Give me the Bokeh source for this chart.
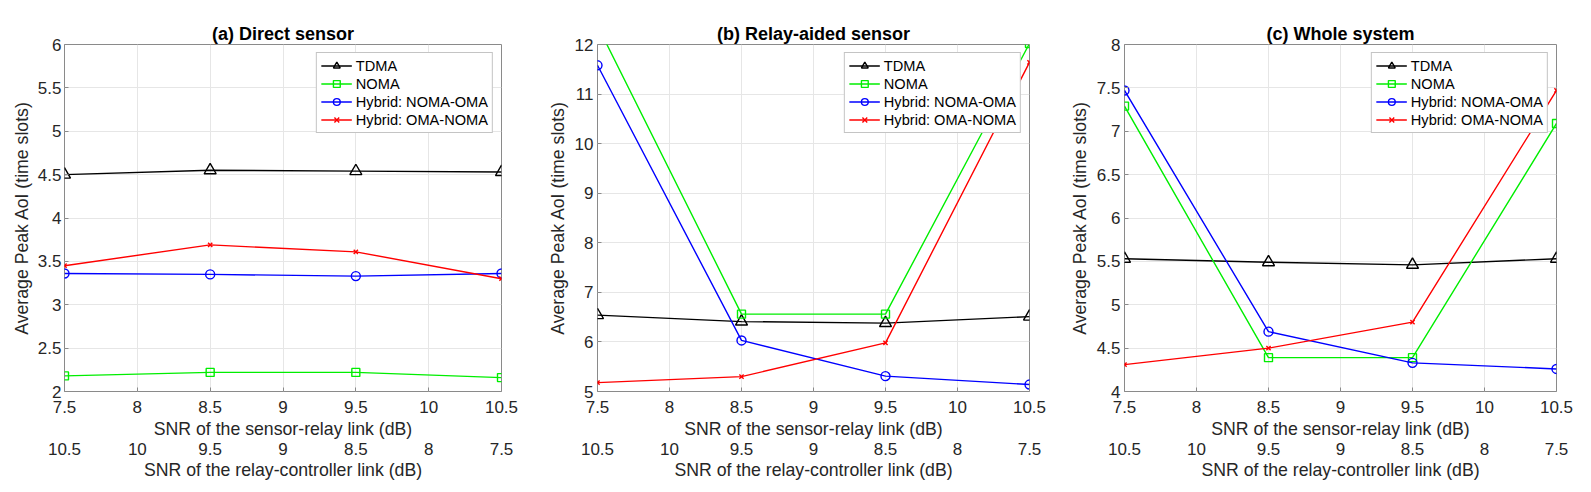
from bokeh.plotting import figure
from bokeh.models import Range1d, LinearAxis, FixedTicker, Title
from bokeh.layouts import row
from bokeh.embed import file_html
from bokeh.resources import INLINE

# ---------------- data ----------------
snr_sr = [7.5, 8.5, 9.5, 10.5]          # SNR of the sensor-relay link (dB)
x_ticks = [7.5, 8, 8.5, 9, 9.5, 10, 10.5]
x_tick_labels = ["7.5", "8", "8.5", "9", "9.5", "10", "10.5"]
rc_ticks = [10.5, 10, 9.5, 9, 8.5, 8, 7.5]  # relay-controller link (reversed)
rc_tick_labels = ["10.5", "10", "9.5", "9", "8.5", "8", "7.5"]

series_names = ["TDMA", "NOMA", "Hybrid: NOMA-OMA", "Hybrid: OMA-NOMA"]

a_tdma = [4.50, 4.55, 4.54, 4.53]
a_noma = [2.18, 2.22, 2.22, 2.16]
a_hno = [3.36, 3.35, 3.33, 3.36]
a_hon = [3.45, 3.69, 3.61, 3.30]

b_tdma = [6.54, 6.41, 6.38, 6.51]
b_noma = [12.38, 6.56, 6.56, 12.02]
b_hno = [11.58, 6.03, 5.31, 5.14]
b_hon = [5.18, 5.30, 5.98, 11.64]

c_tdma = [5.53, 5.49, 5.46, 5.53]
c_noma = [7.29, 4.39, 4.39, 7.09]
c_hno = [7.47, 4.69, 4.33, 4.26]
c_hon = [4.31, 4.50, 4.80, 7.47]

a_yticks = [2, 2.5, 3, 3.5, 4, 4.5, 5, 5.5, 6]
a_ylabels = ["2", "2.5", "3", "3.5", "4", "4.5", "5", "5.5", "6"]
b_yticks = [5, 6, 7, 8, 9, 10, 11, 12]
b_ylabels = ["5", "6", "7", "8", "9", "10", "11", "12"]
c_yticks = [4, 4.5, 5, 5.5, 6, 6.5, 7, 7.5, 8]
c_ylabels = ["4", "4.5", "5", "5.5", "6", "6.5", "7", "7.5", "8"]

titles = ["(a) Direct sensor", "(b) Relay-aided sensor", "(c) Whole system"]
x_label = "SNR of the sensor-relay link (dB)"
x2_label = "SNR of the relay-controller link (dB)"
y_label = "Average Peak AoI (time slots)"

# ---------------- style ----------------
FONT = "Liberation Sans"
TXT = "#262626"
FRAME = "#8a8a8a"
GRID = "#e6e6e6"
TICK_FS = "17px"
LABEL_FS = "17.7px"
styles = [
    dict(color="#000000", marker="triangle", size=12),
    dict(color="#00ee00", marker="square", size=8),
    dict(color="#0000ff", marker="circle", size=9),
    dict(color="#ff0000", marker="x", size=6),
]


def make_panel(title, ys, yr, yticks, ylabels, width, bl, br, y_lab_sd,
               y_axl_sd):
    p = figure(width=width, height=488, x_range=Range1d(7.5, 10.5),
               y_range=Range1d(*yr), output_backend="svg",
               toolbar_location=None, title=None,
               min_border_left=bl, min_border_right=br,
               min_border_top=44, min_border_bottom=97)
    p.extra_x_ranges = {"rc": Range1d(10.5, 7.5)}
    p.outline_line_color = FRAME
    p.outline_line_width = 1
    p.background_fill_color = "white"
    p.border_fill_color = "white"

    xo = {v: s for v, s in zip(x_ticks, x_tick_labels)}
    yo = {v: s for v, s in zip(yticks, ylabels)}
    ro = {v: s for v, s in zip(rc_ticks, rc_tick_labels)}

    # bottom axis
    xa = p.below[0]
    xa.ticker = FixedTicker(ticks=x_ticks)
    xa.major_label_overrides = xo
    xa.axis_label = x_label
    # left axis
    ya = p.left[0]
    ya.ticker = FixedTicker(ticks=yticks)
    ya.major_label_overrides = yo
    ya.axis_label = y_label

    for ax in (xa, ya):
        ax.axis_line_color = None
        ax.major_tick_in = 4
        ax.major_tick_out = 0
        ax.minor_tick_line_color = None
        ax.major_tick_line_color = FRAME
        ax.major_label_text_font = FONT
        ax.major_label_text_font_size = TICK_FS
        ax.major_label_text_color = TXT
        ax.axis_label_text_font = FONT
        ax.axis_label_text_font_size = LABEL_FS
        ax.axis_label_text_font_style = "normal"
        ax.axis_label_text_color = TXT
    xa.major_label_standoff = 9
    xa.axis_label_standoff = 3
    ya.major_label_standoff = y_lab_sd
    ya.axis_label_standoff = y_axl_sd

    # second (relay-controller) axis below
    ra = LinearAxis(x_range_name="rc", ticker=FixedTicker(ticks=rc_ticks),
                    major_label_overrides=ro, axis_label=x2_label,
                    axis_line_color=None, major_tick_line_color=None,
                    minor_tick_line_color=None,
                    major_tick_in=0, major_tick_out=0,
                    major_label_standoff=1, axis_label_standoff=2,
                    major_label_text_font=FONT,
                    major_label_text_font_size=TICK_FS,
                    major_label_text_color=TXT,
                    axis_label_text_font=FONT,
                    axis_label_text_font_size=LABEL_FS,
                    axis_label_text_font_style="normal",
                    axis_label_text_color=TXT)
    p.add_layout(ra, "below")

    p.add_layout(Title(text=title, align="center", text_font=FONT,
                       text_font_size="18px", text_font_style="bold",
                       text_color="black", standoff=2), "above")

    p.xgrid.ticker = FixedTicker(ticks=x_ticks)
    p.ygrid.ticker = FixedTicker(ticks=yticks)
    p.xgrid.grid_line_color = GRID
    p.ygrid.grid_line_color = GRID

    for name, yv, st in zip(series_names, ys, styles):
        p.line(snr_sr, yv, line_color=st["color"], line_width=1.4,
               legend_label=name)
        p.scatter(snr_sr, yv, marker=st["marker"], size=st["size"],
                  line_color=st["color"], fill_color=None, line_width=1.4,
                  legend_label=name)

    lg = p.legend[0]
    lg.location = "top_right"
    lg.margin = 8
    lg.padding = 4
    lg.spacing = 1
    lg.label_height = 17
    lg.glyph_height = 17
    lg.glyph_width = 31
    lg.label_standoff = 4
    lg.label_text_font = FONT
    lg.label_text_font_size = "14.6px"
    lg.label_text_color = "black"
    lg.border_line_color = FRAME
    lg.border_line_width = 1
    lg.background_fill_color = "white"
    lg.background_fill_alpha = 1
    return p


pa = make_panel(titles[0], [a_tdma, a_noma, a_hno, a_hon], (2, 6),
                a_yticks, a_ylabels, 544, 64, 43, 3, 3)
pb = make_panel(titles[1], [b_tdma, b_noma, b_hno, b_hon], (5, 12),
                b_yticks, b_ylabels, 522, 47, 37, 4, 4)
pc = make_panel(titles[2], [c_tdma, c_noma, c_hno, c_hon], (4, 8),
                c_yticks, c_ylabels, 524, 53, 34, 4, 4)

layout = row(pa, pb, pc)
open("out.html", "w").write(file_html(layout, INLINE))
